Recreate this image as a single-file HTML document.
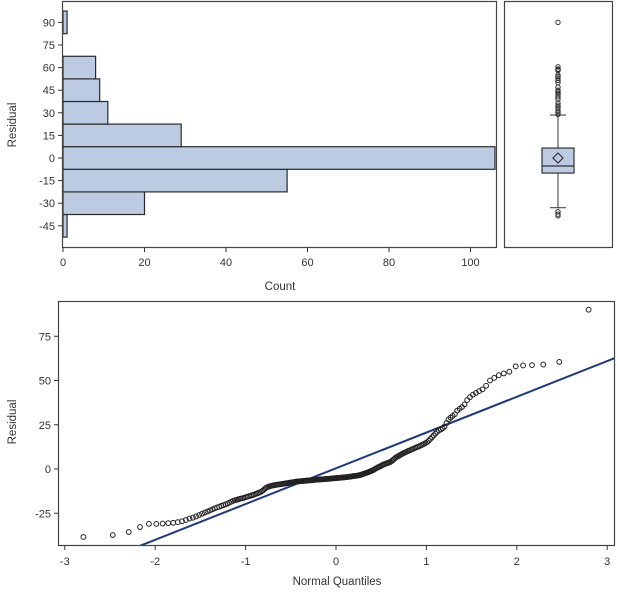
<!DOCTYPE html>
<html><head><meta charset="utf-8"><style>
body{margin:0;background:#fff}
svg text{font-family:"Liberation Sans",Arial,sans-serif;fill:#333}
</style></head><body>
<svg id="c" width="618" height="592" xmlns="http://www.w3.org/2000/svg"></svg>
<script>
// ---- data ----
const binCenters=[-45,-30,-15,0,15,30,45,60,75,90];
const binCounts=[1,20,55,106,29,11,9,8,0,1];
const histYTicks=[-45,-30,-15,0,15,30,45,60,75,90];
const countTicks=[0,20,40,60,80,100];
const boxStats=[-33,-10,-5.3,6.6,28.5]; // lowWhisker,q1,median,q3,highWhisker
const boxMean=[0];
const boxOutliers=[-38.4,-37.3,-35.6,29,30,31,33,34,35,36.5,39,40.6,42,43,44,45,47,50,51.5,53,54,55,58,58.5,58.7,59,60.5,90];
const residuals=[-38.4,
-37.3,-35.6,-32.8,-31,-31,-30.8,-30.6,-30.4,-30,-29.5,-28.8,-28,-27.5,-26.8,-26,-25.3,-24.6,-24,-23.4,-22.8,
-22.2,-21.7,-21.3,-20.8,-20.4,-20,-19.5,-19,-18.5,-18,
-17.7,-17.4,-17.1,-16.8,-16.6,-16.4,-16.1,-15.8,-15.6,-15.3,-15,-14.8,-14.5,-14.2,-13.9,-13.6,-13.3,-13,
-12.5,-12,-11.3,-10.7,-10.3,-10,-9.8,-9.6,-9.4,-9.3,-9.1,-9,-8.9,-8.8,-8.7,-8.6,-8.5,-8.4,-8.3,-8.2,-8.1,-8,-7.9,-7.8,-7.7,-7.6,-7.6,
-7.4,-7.3,-7.2,-7.1,-7.0,-7.0,-6.9,-6.9,-6.8,-6.8,-6.7,-6.7,-6.6,-6.6,-6.5,-6.5,-6.4,-6.4,-6.3,-6.3,-6.2,
-6.1,-6.1,-6.0,-6.0,-6.0,-5.9,-5.9,-5.8,-5.8,-5.8,-5.7,-5.7,-5.6,-5.6,-5.6,-5.5,-5.5,-5.4,-5.4,-5.3,-5.3,-5.2,-5.2,-5.1,-5.1,-5.0,-5.0,-4.9,-4.9,-4.8,-4.8,-4.7,-4.7,-4.6,-4.5,-4.5,-4.4,-4.3,-4.3,-4.2,-4.1,-4.0,-3.9,-3.9,-3.8,-3.7,-3.6,-3.5,-3.4,
-3.2,-3.0,-2.8,-2.6,-2.4,-2.2,-2.0,-1.8,-1.6,-1.3,-1.1,-0.8,-0.6,
-0.2,0.2,0.5,0.8,1.1,1.4,1.7,2.0,2.3,2.6,2.9,3.1,3.3,3.5,3.8,4.0,
4.5,5.0,5.6,6.2,6.7,7.0,7.4,
7.8,8.2,8.6,9.0,9.3,9.6,10,10.3,10.6,11,11.3,11.6,12,12.3,12.6,13,13.4,13.8,14.2,14.7,
15.2,16,17,18,19,20,21,21.8,22.3,
23,24,26,28,29,30,31,33,34,35,36.5,
39,40.6,42,43,44,45,47,50,51.5,
53,54,55,58,58.5,58.7,59,60.5,90];
const qqXTicks=[-3,-2,-1,0,1,2,3];
const qqYTicks=[-25,0,25,50,75];
const refLine=[0.4,20.2]; // intercept, slope

// ---- helpers ----
const svg=document.getElementById('c');
const NS='http://www.w3.org/2000/svg';
function mk(tag,attrs,parent){const e=document.createElementNS(NS,tag);for(const k in attrs)e.setAttribute(k,attrs[k]);(parent||svg).appendChild(e);return e;}
function txt(s,x,y,anchor,size,parent){const t=mk('text',{x:x,y:y,'text-anchor':anchor,'font-size':size},parent);t.textContent=s;return t;}

// scales
const hy=v=>158-v*1.507;
const hx=c=>63+c*4.075;
const qx=q=>336+q*90.4;
const qy=v=>469-v*1.77;

// ---- histogram ----
const gH=mk('g',{});


binCenters.forEach((c,i)=>{
  if(!binCounts[i])return;
  const r=mk('rect',{x:hx(0),y:hy(c+7.5),width:hx(binCounts[i])-hx(0),height:hy(c-7.5)-hy(c+7.5),fill:'#bccbe2',stroke:'#2a2a2a','stroke-width':1.2},gH);
  
  
});
const fH=mk('rect',{x:62.5,y:1.5,width:434,height:246,fill:'none',stroke:'#444','stroke-width':1.2},gH);


histYTicks.forEach(v=>{
  mk('line',{x1:58,x2:62.5,y1:hy(v),y2:hy(v),stroke:'#333'},gH);
  const t=txt(String(v),55,hy(v)+4,'end',11,gH);
  
  
});
countTicks.forEach(v=>{
  mk('line',{x1:hx(v),x2:hx(v),y1:247.5,y2:252,stroke:'#333'},gH);
  const t=txt(String(v),hx(v),266,'middle',11,gH);
  
  
});
const ct=txt('Count',280,290,'middle',11.5,gH);


const r1=txt('Residual',0,0,'middle',11.5,gH);
r1.setAttribute('transform','translate(16,125) rotate(-90)');



// ---- boxplot ----
const gB=mk('g',{});


const fB=mk('rect',{x:504.5,y:1.5,width:108,height:246,fill:'none',stroke:'#444','stroke-width':1.2},gB);


const bx=558;
mk('line',{x1:bx,x2:bx,y1:hy(boxStats[4]),y2:hy(boxStats[3]),stroke:'#333'},gB);
mk('line',{x1:bx,x2:bx,y1:hy(boxStats[1]),y2:hy(boxStats[0]),stroke:'#333'},gB);
mk('line',{x1:bx-8,x2:bx+8,y1:hy(boxStats[4]),y2:hy(boxStats[4]),stroke:'#333'},gB);
mk('line',{x1:bx-8,x2:bx+8,y1:hy(boxStats[0]),y2:hy(boxStats[0]),stroke:'#333'},gB);
const box=mk('rect',{x:bx-16,y:hy(boxStats[3]),width:32,height:hy(boxStats[1])-hy(boxStats[3]),fill:'#bccbe2',stroke:'#333','stroke-width':1.2},gB);


mk('line',{x1:bx-16,x2:bx+16,y1:hy(boxStats[2]),y2:hy(boxStats[2]),stroke:'#333','stroke-width':1.2},gB);
const my=hy(boxMean[0]);
const dm=mk('polygon',{points:`${bx},${my-5} ${bx+5},${my} ${bx},${my+5} ${bx-5},${my}`,fill:'none',stroke:'#333','stroke-width':1.2},gB);


boxOutliers.forEach(v=>{
  const c=mk('circle',{cx:bx,cy:hy(v),r:2.2,fill:'none',stroke:'#333','stroke-width':1},gB);
  
  
});

// ---- QQ plot ----
const gQ=mk('g',{});


const clip=mk('clipPath',{id:'qc'},gQ);
mk('rect',{x:58.5,y:301.5,width:556,height:244},clip);
function invNorm(p){const a=[-39.6968302866538,220.946098424521,-275.928510446969,138.357751867269,-30.6647980661472,2.50662827745924],b=[-54.4760987982241,161.585836858041,-155.698979859887,66.8013118877197,-13.2806815528857],c=[-0.00778489400243029,-0.322396458041136,-2.40075827716184,-2.54973253934373,4.37466414146497,2.93816398269878],d=[0.00778469570904146,0.32246712907004,2.445134137143,3.75440866190742];let q,r;if(p<0.02425){q=Math.sqrt(-2*Math.log(p));return(((((c[0]*q+c[1])*q+c[2])*q+c[3])*q+c[4])*q+c[5])/((((d[0]*q+d[1])*q+d[2])*q+d[3])*q+1);}if(p>1-0.02425){q=Math.sqrt(-2*Math.log(1-p));return-(((((c[0]*q+c[1])*q+c[2])*q+c[3])*q+c[4])*q+c[5])/((((d[0]*q+d[1])*q+d[2])*q+d[3])*q+1);}q=p-0.5;r=q*q;return(((((a[0]*r+a[1])*r+a[2])*r+a[3])*r+a[4])*r+a[5])*q/(((((b[0]*r+b[1])*r+b[2])*r+b[3])*r+b[4])*r+1);}
const sorted=residuals.slice().sort((a,b)=>a-b);
const n=sorted.length;
const ql=mk('line',{x1:qx(-4),y1:qy(refLine[0]-4*refLine[1]),x2:qx(4),y2:qy(refLine[0]+4*refLine[1]),stroke:'#1f3a7a','stroke-width':2,'clip-path':'url(#qc)'},gQ);


sorted.forEach((v,i)=>{
  const q=invNorm((i+1-0.375)/(n+0.25));
  const c=mk('circle',{cx:qx(q),cy:qy(v),r:2.4,fill:'none',stroke:'#222','stroke-width':1},gQ);
  
  
});
const fQ=mk('rect',{x:58.5,y:301.5,width:556,height:244,fill:'none',stroke:'#444','stroke-width':1.2},gQ);


qqYTicks.forEach(v=>{
  mk('line',{x1:54,x2:58.5,y1:qy(v),y2:qy(v),stroke:'#333'},gQ);
  const t=txt(String(v),51,qy(v)+4,'end',11,gQ);
  
  
});
qqXTicks.forEach(v=>{
  mk('line',{x1:qx(v),x2:qx(v),y1:545.5,y2:550,stroke:'#333'},gQ);
  const t=txt(String(v),qx(v),565,'middle',11,gQ);
  
  
});
const nq=txt('Normal Quantiles',337,585,'middle',11.5,gQ);


const r2=txt('Residual',0,0,'middle',11.5,gQ);
r2.setAttribute('transform','translate(16,422) rotate(-90)');


</script>
</body></html>
